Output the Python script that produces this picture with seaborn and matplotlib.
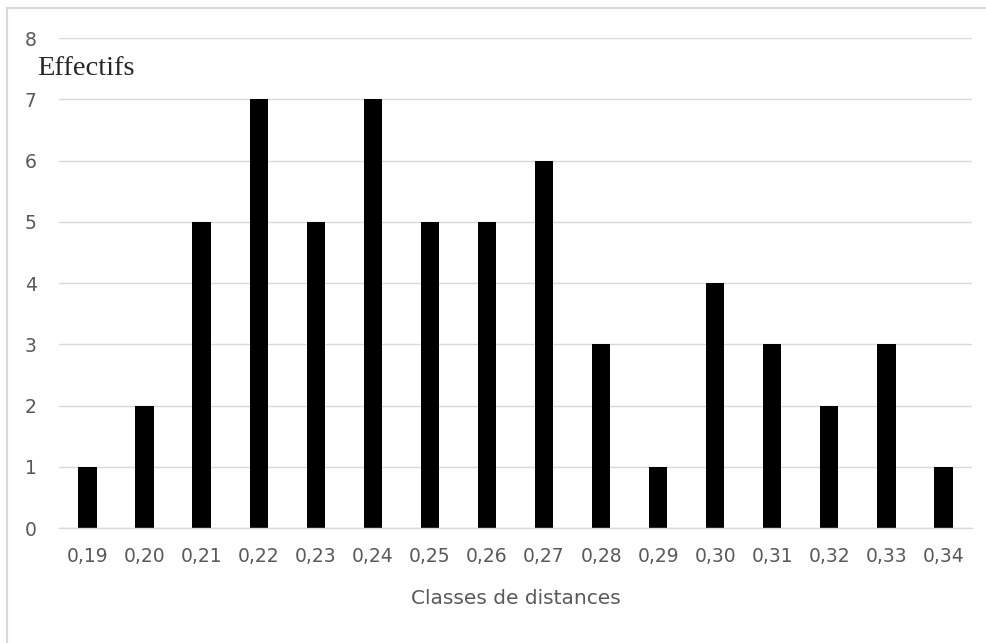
import seaborn as sns
import matplotlib.pyplot as plt
import pandas as pd
from matplotlib.patches import Rectangle

classes = ["0,19", "0,20", "0,21", "0,22", "0,23", "0,24", "0,25", "0,26",
           "0,27", "0,28", "0,29", "0,30", "0,31", "0,32", "0,33", "0,34"]
effectifs = [1, 2, 5, 7, 5, 7, 5, 5, 6, 3, 1, 4, 3, 2, 3, 1]

df = pd.DataFrame({"classe": classes, "effectif": effectifs})

sns.set_style("white")
plt.rcParams['font.family'] = ['DejaVu Sans']

fig = plt.figure(figsize=(9.86, 6.43), dpi=100)
ax = fig.add_axes([0.0598, 0.1788, 0.926, 0.7621])

sns.barplot(data=df, x="classe", y="effectif", color="black", width=0.32,
            saturation=1, edgecolor="black", linewidth=0, ax=ax)

ax.set_ylim(0, 8)
ax.set_xlim(-0.5, len(classes) - 0.5)
ax.set_yticks(range(0, 9))
ax.grid(axis="y", color="#d9d9d9", linewidth=1)
ax.set_axisbelow(True)
for s in ["top", "right", "left"]:
    ax.spines[s].set_visible(False)
ax.spines["bottom"].set_color("#d9d9d9")
ax.spines["bottom"].set_linewidth(1)
ax.tick_params(axis="both", length=0, labelsize=13.5, labelcolor="#595959")
ax.tick_params(axis="y", pad=16)
ax.tick_params(axis="x", pad=14)
ax.set_xlabel("Classes de distances", fontsize=14.5, color="#595959", labelpad=16)
ax.set_ylabel("")

fig.text(0.038, 0.883, "Effectifs", family="Liberation Serif", fontsize=20.5,
         color="#262626", ha="left", va="baseline")

fig.patches.append(Rectangle((0.007, -0.1), 1.5, 1.088, transform=fig.transFigure,
                             fill=False, edgecolor="#d9d9d9", linewidth=1.5))

fig.savefig("out.png", dpi=100)
